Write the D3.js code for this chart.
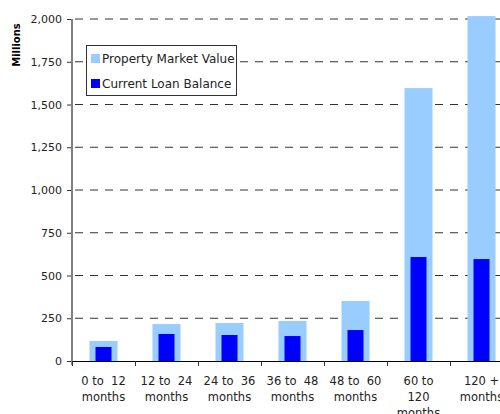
<!DOCTYPE html>
<html><head><meta charset="utf-8">
<script src="https://cdn.jsdelivr.net/npm/d3@7/dist/d3.min.js"></script>
<style>
html,body{margin:0;padding:0;background:#fff;}
svg{display:block;font-family:"DejaVu Sans",Verdana,sans-serif;}
text{white-space:pre;}
</style></head><body>
<svg id="c" width="500" height="414"></svg>
<script>
const categories = [["0 to  12","months"],["12 to  24","months"],["24 to  36","months"],["36 to  48","months"],["48 to  60","months"],["60 to","120","months"],["120 +","months"]];
const marketValue = [117, 216, 222, 234, 351, 1596, 2017];
const loanBalance = [82, 158, 152, 146, 181, 608, 596];
const yTicks = [0, 250, 500, 750, 1000, 1250, 1500, 1750, 2000];
const seriesNames = ["Property Market Value", "Current Loan Balance"];
const colors = ["#99ccff", "#0000ff"];

const svg = d3.select("#c");
const x0 = 72, y0 = 361, yTop = 19;
const x = d3.scaleBand().domain(d3.range(categories.length)).range([x0, x0 + 63 * categories.length]);
const y = d3.scaleLinear().domain([0, 2000]).range([y0, yTop]);

// grid
svg.append("g").selectAll("line").data(yTicks.filter(d => d > 0)).join("line")
  .attr("x1", x0).attr("x2", 500).attr("y1", d => y(d)).attr("y2", d => y(d))
  .attr("stroke", "#333").attr("stroke-width", 1).attr("stroke-dasharray", "8,7")
  .attr("stroke-dashoffset", -3);

// bars
const bw1 = 28, bw2 = 16;
svg.append("g").selectAll("rect").data(marketValue).join("rect")
  .attr("x", (d, i) => x(i) + x.bandwidth() / 2 - bw1 / 2).attr("width", bw1)
  .attr("y", d => y(d)).attr("height", d => y0 - y(d)).attr("fill", colors[0]);
svg.append("g").selectAll("rect").data(loanBalance).join("rect")
  .attr("x", (d, i) => x(i) + x.bandwidth() / 2 - bw2 / 2).attr("width", bw2)
  .attr("y", d => y(d)).attr("height", d => y0 - y(d)).attr("fill", colors[1]);

// y axis
const ya = svg.append("g").attr("transform", `translate(${x0},0)`)
  .call(d3.axisLeft(y).tickValues(yTicks).tickSize(5).tickPadding(5).tickFormat(d3.format(",")));
ya.select(".domain").remove();
ya.selectAll(".tick line").attr("stroke", "#333");
ya.selectAll("text").attr("font-size", 11).attr("fill", "#222").attr("font-family", "DejaVu Sans, Verdana, sans-serif");
svg.append("line").attr("x1", x0).attr("x2", x0).attr("y1", yTop).attr("y2", y0 + 4)
  .attr("stroke", "#808080").attr("stroke-width", 2);

// x axis
svg.append("line").attr("x1", x0).attr("x2", 500).attr("y1", y0 + 0.5).attr("y2", y0 + 0.5)
  .attr("stroke", "#000").attr("stroke-width", 1);
svg.append("g").selectAll("line").data(d3.range(categories.length + 1)).join("line")
  .attr("x1", i => x0 + i * x.step() + 0.5).attr("x2", i => x0 + i * x.step() + 0.5)
  .attr("y1", y0).attr("y2", y0 + 5).attr("stroke", "#333");

const xl = svg.append("g").selectAll("text").data(categories).join("text")
  .attr("x", (d, i) => x(i) + x.bandwidth() / 2).attr("y", 385)
  .attr("text-anchor", "middle").attr("font-size", 11.5).attr("fill", "#222");
xl.selectAll("tspan").data(d => d).join("tspan")
  .attr("x", function() { return this.parentNode.getAttribute("x"); })
  .attr("dy", (d, i) => i === 0 ? 0 : 16).text(d => d);

// y title
svg.append("text").attr("transform", "translate(20,45) rotate(-90)")
  .attr("text-anchor", "middle").attr("font-size", 10).attr("font-weight", "bold")
  .attr("fill", "#000").text("Millions");

// legend
const lg = svg.append("g");
lg.append("rect").attr("x", 86.5).attr("y", 45.5).attr("width", 150).attr("height", 50)
  .attr("fill", "#fff").attr("stroke", "#333").attr("stroke-width", 1);
seriesNames.forEach((n, i) => {
  lg.append("rect").attr("x", 91).attr("y", 54 + i * 25).attr("width", 9).attr("height", 9).attr("fill", colors[i]);
  lg.append("text").attr("x", 102).attr("y", 63 + i * 25).attr("font-size", 12).attr("fill", "#222").text(n);
});
</script>
</body></html>
